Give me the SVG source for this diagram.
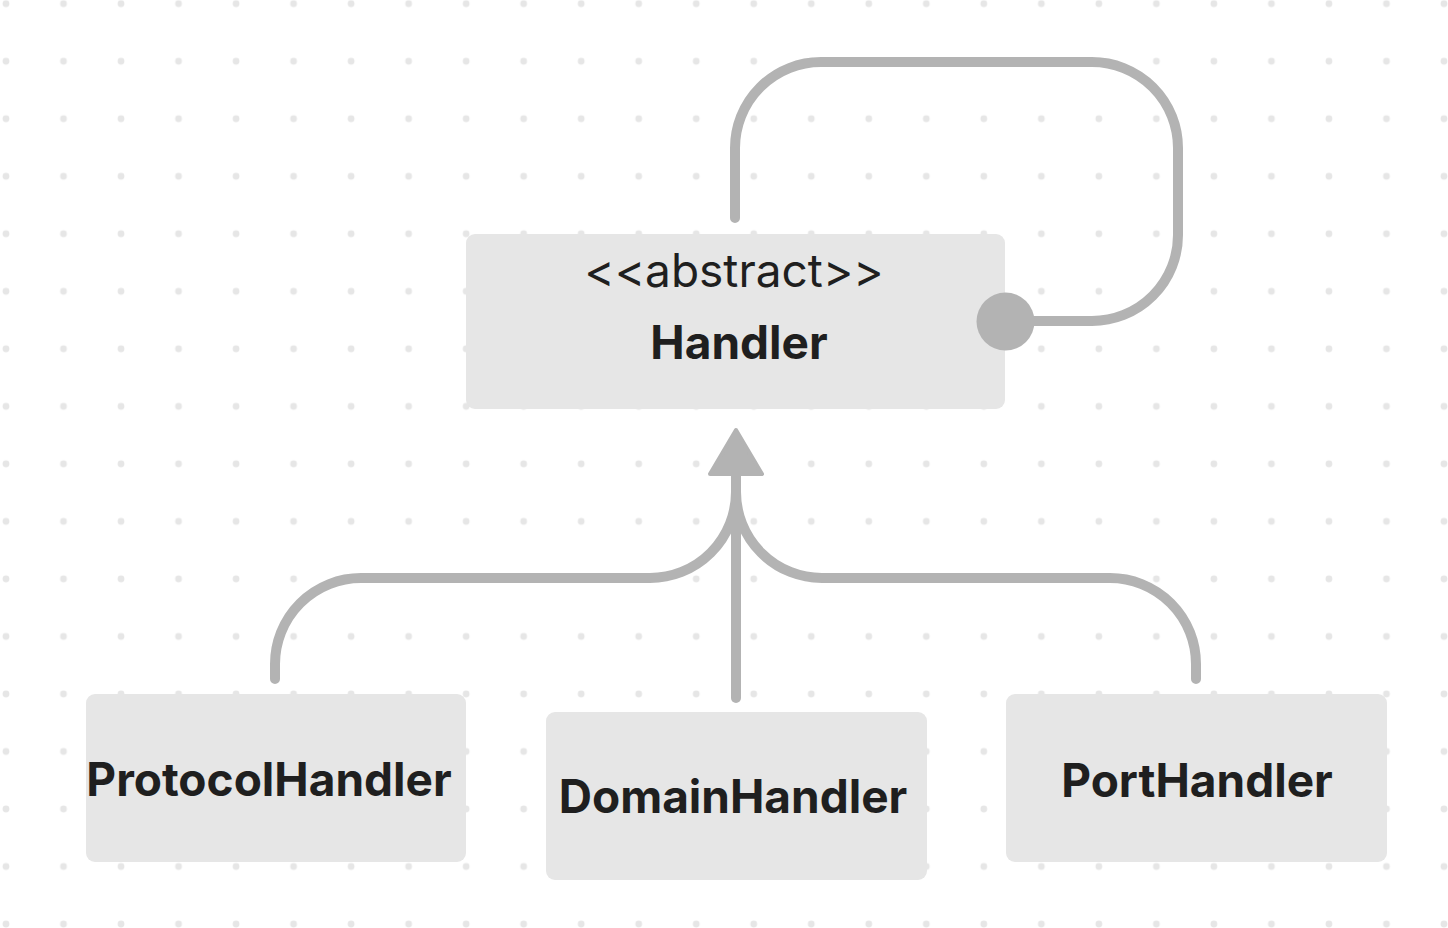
<svg xmlns="http://www.w3.org/2000/svg" width="1448" height="928" viewBox="0 0 1448 928">
  <defs>
    <pattern id="dots" patternUnits="userSpaceOnUse" x="-22.76" y="-25.06" width="57.52" height="57.52">
      <circle cx="28.76" cy="28.76" r="3.4" fill="#e6e6e6"/>
    </pattern>
    <style>
      .box { fill: #e6e6e6; }
      .edge { fill: none; stroke: #b3b3b3; stroke-width: 10; stroke-linecap: round; stroke-linejoin: round; }
      .head { fill: #b3b3b3; stroke: #b3b3b3; stroke-width: 4; stroke-linejoin: round; }
      .name { font-family: Inter, "Liberation Sans", sans-serif; font-weight: 700; font-size: 46px; fill: #1f1f1f; text-anchor: middle; }
      .stereo { font-family: Inter, "Liberation Sans", sans-serif; font-weight: 400; font-size: 46px; fill: #1f1f1f; text-anchor: middle; }
    </style>
  </defs>
  <rect width="1448" height="928" fill="#ffffff"/>
  <rect width="1448" height="928" fill="url(#dots)"/>

  <g id="connectors">
    <path class="edge" d="M275 679 V664 A86 86 0 0 1 361 578 H650 A86 86 0 0 0 736 492 V478"/>
    <path class="edge" d="M1196 679 V664 A86 86 0 0 0 1110 578 H822 A86 86 0 0 1 736 492"/>
    <path class="edge" d="M736 698 V476"/>
    <path class="head" d="M736 430 L762 474 L710 474 Z"/>
    <path class="edge" d="M735 218 V148 A86 86 0 0 1 821 62 H1092 A86 86 0 0 1 1178 148 V235 A86 86 0 0 1 1092 321 H1005"/>
  </g>

  <g id="handler">
    <rect class="box" x="466" y="234" width="539" height="175" rx="9"/>
    <text class="stereo" x="734" y="287">&lt;&lt;abstract&gt;&gt;</text>
    <text class="name" x="739" y="359">Handler</text>
    <circle cx="1005.5" cy="321.5" r="29" fill="#b3b3b3"/>
  </g>

  <g id="protocolHandler">
    <rect class="box" x="86" y="694" width="380" height="168" rx="9"/>
    <text class="name" x="269" y="796">ProtocolHandler</text>
  </g>

  <g id="domainHandler">
    <rect class="box" x="546" y="712" width="381" height="168" rx="9"/>
    <text class="name" x="733" y="813">DomainHandler</text>
  </g>

  <g id="portHandler">
    <rect class="box" x="1006" y="694" width="381" height="168" rx="9"/>
    <text class="name" x="1197" y="797">PortHandler</text>
  </g>
</svg>
